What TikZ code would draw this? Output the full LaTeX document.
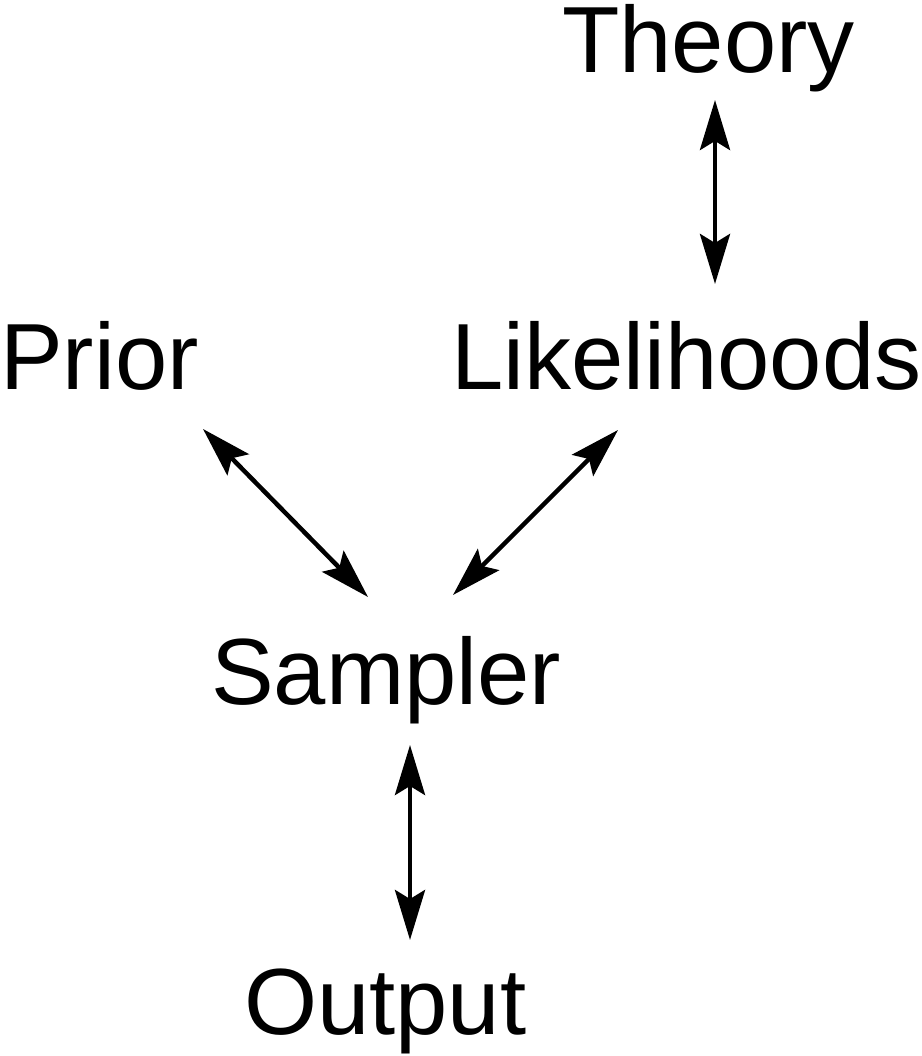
\documentclass[tikz,border=0pt]{standalone}
\usepackage{fontspec}
\setmainfont{Liberation Sans}
\usetikzlibrary{arrows.meta}
\begin{document}
\begin{tikzpicture}[x=1pt,y=1pt,
  lbl/.style={anchor=base west,inner sep=0pt,font=\fontsize{94}{112}\selectfont},
  conn/.style={line width=4.5pt,{Stealth[length=50pt,width=30pt,inset=9pt]}-{Stealth[length=50pt,width=30pt,inset=9pt]}}]
\useasboundingbox (0,0) rectangle (921,1056);
\node[lbl] (theory) at (562,983) {Theory};
\node[lbl] (prior) at (0,666) {Prior};
\node[lbl] (lik) at (451,666) {Likelihoods};
\node[lbl] (sampler) at (211,351) {Sampler};
\node[lbl] (output) at (244,21) {Output};
\coordinate (t1) at (715,956);
\coordinate (t2) at (715,772);
\coordinate (p1) at (203,627);
\coordinate (p2) at (368,459);
\coordinate (l1) at (618,626);
\coordinate (l2) at (453,461);
\coordinate (s1) at (410,311);
\coordinate (s2) at (410,116);
\draw[conn] (t1) -- (t2);
\draw[conn] (p1) -- (p2);
\draw[conn] (l1) -- (l2);
\draw[conn] (s1) -- (s2);
\end{tikzpicture}
\end{document}
